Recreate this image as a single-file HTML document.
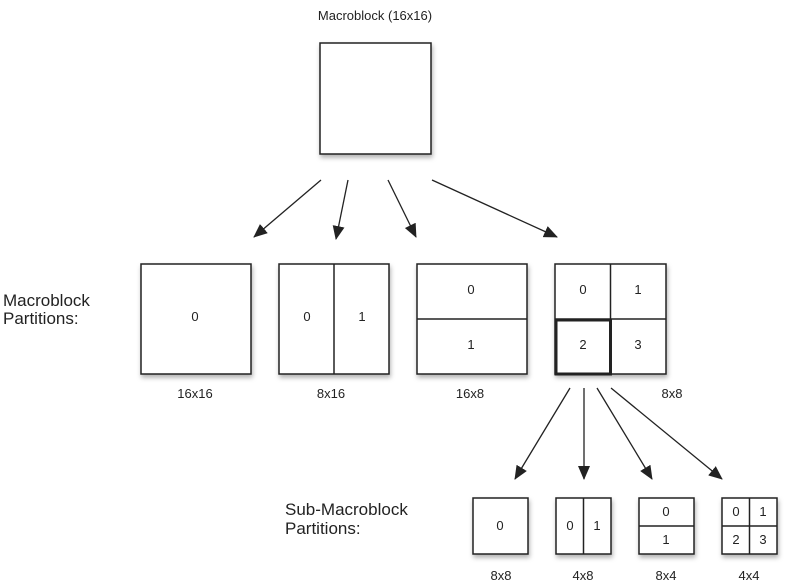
<!DOCTYPE html>
<html><head><meta charset="utf-8"><style>
html,body{margin:0;padding:0;background:#fff}
svg{display:block;font-family:"Liberation Sans",Arial,sans-serif}
</style></head><body>
<svg width="786" height="583" viewBox="0 0 786 583">
<defs>
<marker id="ah" markerWidth="14" markerHeight="12" refX="13" refY="6" orient="auto" markerUnits="userSpaceOnUse"><path d="M0,0 L14,6 L0,12 z" fill="#222"/></marker>
<filter id="sh" x="-20%" y="-20%" width="150%" height="150%"><feDropShadow dx="1" dy="3" stdDeviation="2.5" flood-color="#000" flood-opacity="0.3"/></filter>
</defs>
<g fill="#fff" stroke="#222" stroke-width="1.5" filter="url(#sh)">
<rect x="320" y="43" width="111" height="111"/>
<rect x="141" y="264" width="110" height="110"/>
<rect x="279" y="264" width="110" height="110"/>
<rect x="417" y="264" width="110" height="110"/>
<rect x="555" y="264" width="111" height="110"/>
<rect x="473" y="498" width="55" height="56"/>
<rect x="556" y="498" width="55" height="56"/>
<rect x="639" y="498" width="55" height="56"/>
<rect x="722" y="498" width="55" height="56"/>
</g>
<g stroke="#222" stroke-width="1.5">
<line x1="334" y1="264" x2="334" y2="374"/>
<line x1="417" y1="319" x2="527" y2="319"/>
<line x1="610.5" y1="264" x2="610.5" y2="374"/>
<line x1="555" y1="319" x2="666" y2="319"/>
<line x1="583.5" y1="498" x2="583.5" y2="554"/>
<line x1="639" y1="526" x2="694" y2="526"/>
<line x1="749.5" y1="498" x2="749.5" y2="554"/>
<line x1="722" y1="526" x2="777" y2="526"/>
</g>
<rect x="556" y="320" width="54.5" height="54" fill="none" stroke="#222" stroke-width="3"/>
<g stroke="#222" stroke-width="1.3" marker-end="url(#ah)">
<line x1="321" y1="180" x2="254" y2="237"/>
<line x1="348" y1="180" x2="336" y2="239"/>
<line x1="388" y1="180" x2="416" y2="237"/>
<line x1="432" y1="180" x2="557" y2="237"/>
<line x1="570" y1="388" x2="515" y2="479"/>
<line x1="584" y1="388" x2="584" y2="479"/>
<line x1="597" y1="388" x2="652" y2="479"/>
<line x1="611" y1="388" x2="722" y2="479"/>
</g>
<g font-size="13" fill="#222" text-anchor="middle">
<text x="375" y="20">Macroblock (16x16)</text>
<text x="195" y="321">0</text>
<text x="307" y="321">0</text><text x="362" y="321">1</text>
<text x="471" y="294">0</text><text x="471" y="349">1</text>
<text x="583" y="294">0</text><text x="638" y="294">1</text>
<text x="583" y="349">2</text><text x="638" y="349">3</text>
<text x="500" y="530">0</text>
<text x="570" y="530">0</text><text x="597" y="530">1</text>
<text x="666" y="516">0</text><text x="666" y="544">1</text>
<text x="736" y="516">0</text><text x="763" y="516">1</text>
<text x="736" y="544">2</text><text x="763" y="544">3</text>
<text x="195" y="398">16x16</text>
<text x="331" y="398">8x16</text>
<text x="470" y="398">16x8</text>
<text x="672" y="398">8x8</text>
<text x="501" y="580">8x8</text>
<text x="583" y="580">4x8</text>
<text x="666" y="580">8x4</text>
<text x="749" y="580">4x4</text>
</g>
<g font-size="17" fill="#222">
<text x="3" y="306">Macroblock</text>
<text x="3" y="324">Partitions:</text>
<text x="285" y="515">Sub-Macroblock</text>
<text x="285" y="534">Partitions:</text>
</g>
</svg>
</body></html>
